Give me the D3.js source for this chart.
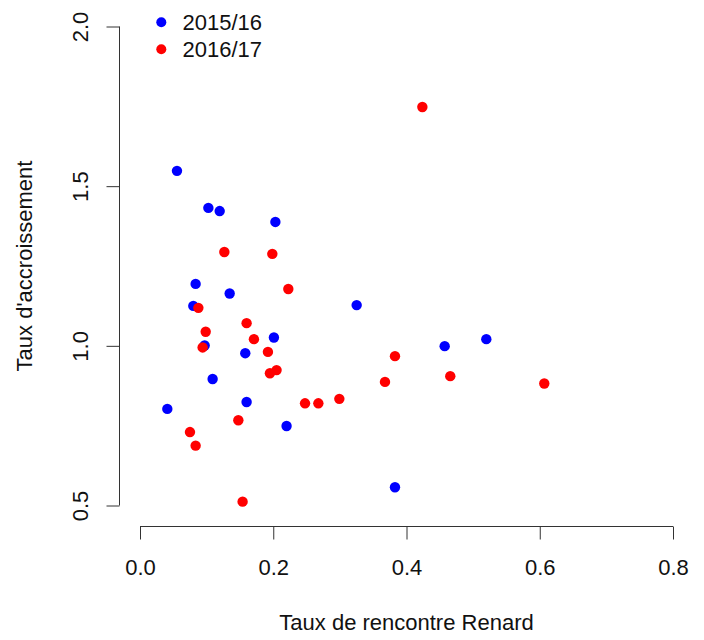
<!DOCTYPE html>
<html>
<head>
<meta charset="utf-8">
<script src="https://cdn.jsdelivr.net/npm/d3@7"></script>
<style>
  body { margin: 0; background: #fff; }
  svg text { font-family: "Liberation Sans", Arial, sans-serif; fill: #111; }
</style>
</head>
<body>
<svg id="chart" width="704" height="640"></svg>
<script>
// Encounter rate (x) vs growth rate (y) for two seasons
const seasons = ["2015/16", "2016/17"];
const seasonColors = ["#0000ff", "#ff0000"];

const x2015 = [0.0555, 0.1026, 0.1196, 0.2032, 0.0835, 0.1346, 0.080, 0.201, 0.097, 0.158,
               0.109, 0.160, 0.041, 0.220, 0.3252, 0.4573, 0.5198, 0.3827];
const y2015 = [1.548, 1.432, 1.422, 1.388, 1.194, 1.164, 1.125, 1.026, 1.001, 0.977,
               0.896, 0.824, 0.8025, 0.749, 1.1276, 0.999, 1.021, 0.557];

const x2016 = [0.1266, 0.1986, 0.2226, 0.0876, 0.160, 0.0986, 0.171, 0.094, 0.192, 0.195,
               0.205, 0.2477, 0.2677, 0.1476, 0.075, 0.0835, 0.154, 0.4238, 0.3827, 0.3677,
               0.4657, 0.6068, 0.2992];
const y2016 = [1.294, 1.288, 1.178, 1.119, 1.071, 1.044, 1.021, 0.995, 0.981, 0.914,
               0.924, 0.820, 0.820, 0.767, 0.730, 0.6875, 0.512, 1.748, 0.9677, 0.887,
               0.905, 0.882, 0.834];

const xTicks = [0.0, 0.2, 0.4, 0.6, 0.8];
const yTicks = [0.5, 1.0, 1.5, 2.0];
const xTitle = "Taux de rencontre Renard";
const yTitle = "Taux d'accroissement";

const svg = d3.select("#chart");
const axisColor = "#333";
const fontSize = 22;

const x = d3.scaleLinear().domain([0, 0.8]).range([140, 673]);
const y = d3.scaleLinear().domain([0.5, 2.0]).range([505.5, 26.5]);

const xAxisY = 526.5;
const yAxisX = 119.5;

// X axis
const gx = svg.append("g")
  .attr("transform", `translate(0,${xAxisY})`)
  .call(d3.axisBottom(x).tickValues(xTicks).tickSize(13).tickSizeOuter(0)
        .tickFormat(d3.format(".1f")));
gx.select(".domain").attr("stroke", axisColor).attr("d", `M${x(0)},0H${x(0.8)}`);
gx.selectAll(".tick line").attr("stroke", axisColor);
gx.selectAll(".tick text")
  .attr("y", 48.5).attr("dy", null)
  .style("font-size", fontSize + "px")
  .attr("fill", "#111");

// Y axis, labels parallel to the axis
const gy = svg.append("g")
  .attr("transform", `translate(${yAxisX},0)`)
  .call(d3.axisLeft(y).tickValues(yTicks).tickSize(13).tickSizeOuter(0)
        .tickFormat(d3.format(".1f")));
gy.select(".domain").attr("stroke", axisColor).attr("d", `M0,${y(0.5)}V${y(2.0)}`);
gy.selectAll(".tick line").attr("stroke", axisColor);
gy.selectAll(".tick text")
  .attr("x", null).attr("dy", null)
  .attr("text-anchor", "middle")
  .attr("transform", "translate(-32,0) rotate(-90)")
  .style("font-size", fontSize + "px")
  .attr("fill", "#111");

// Axis titles
svg.append("text")
  .attr("x", (x(0) + x(0.8)) / 2).attr("y", 630)
  .attr("text-anchor", "middle")
  .style("font-size", fontSize + "px")
  .text(xTitle);

svg.append("text")
  .attr("transform", `translate(31.5,${(y(0.5) + y(2.0)) / 2}) rotate(-90)`)
  .attr("text-anchor", "middle")
  .style("font-size", fontSize + "px")
  .text(yTitle);

// Points: 2015/16 first, 2016/17 drawn on top
const series = [
  { xs: x2015, ys: y2015, color: seasonColors[0] },
  { xs: x2016, ys: y2016, color: seasonColors[1] }
];
series.forEach(s => {
  svg.append("g").selectAll("circle")
    .data(s.xs.map((v, i) => [v, s.ys[i]]))
    .join("circle")
    .attr("cx", d => x(d[0]))
    .attr("cy", d => y(d[1]))
    .attr("r", 5.2)
    .attr("fill", s.color);
});

// Legend
const legend = svg.append("g");
seasons.forEach((name, i) => {
  const cy = 22.3 + i * 27;
  legend.append("circle")
    .attr("cx", 161.3).attr("cy", cy).attr("r", 5)
    .attr("fill", seasonColors[i]);
  legend.append("text")
    .attr("x", 182.5).attr("y", cy + 8)
    .style("font-size", fontSize + "px")
    .text(name);
});
</script>
</body>
</html>
